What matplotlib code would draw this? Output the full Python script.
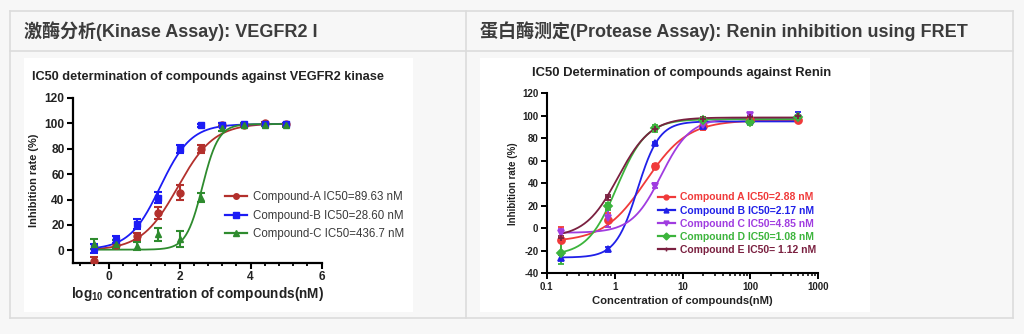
import numpy as np
import matplotlib
matplotlib.use("Agg")
import matplotlib.pyplot as plt
from matplotlib.patches import Rectangle
from matplotlib.lines import Line2D
from matplotlib.ticker import MultipleLocator, FixedLocator, LogLocator, NullFormatter, FuncFormatter

plt.rcParams['font.family'] = ['Liberation Sans', 'DejaVu Sans']
plt.rcParams['axes.unicode_minus'] = False
plt.rcParams['mathtext.fontset'] = 'custom'
plt.rcParams['mathtext.rm'] = 'Liberation Sans:bold'
plt.rcParams['mathtext.it'] = 'Liberation Sans:bold'
plt.rcParams['mathtext.bf'] = 'Liberation Sans:bold'

# ---------------- Kinase assay (VEGFR2) ----------------
kin_logc = [-0.4, 0.2, 0.8, 1.4, 2.0, 2.6, 3.2, 3.8, 4.4, 5.0]
kin_names = ["Compound-A IC50=89.63 nM", "Compound-B IC50=28.60 nM", "Compound-C IC50=436.7 nM"]
kin_ic50 = [89.63, 28.60, 436.7]
kin_hill = [0.85, 1.0, 1.9]
kin_bottom = [0.0, 0.5, 0.5]
kin_top = [100.0, 99.5, 99.5]
kin_a = [-8.5, 4, 11, 29.5, 45.5, 80, 99, 98.7, 100, 99.5]
kin_b = [1.5, 8.5, 20.5, 41.5, 80, 98.5, 99, 99.5, 99.5, 99.5]
kin_c = [5, 5, 3.5, 12.5, 9, 41.5, 96, 99, 99, 98.5]
kin_a_err = [3, 2, 3, 4.5, 6, 3, 1, 1, 1, 1]
kin_b_err = [3.5, 3, 4, 4.5, 3, 1, 1, 1, 1, 1]
kin_c_err = [4, 3, 3, 5, 6.5, 3.5, 2, 1, 1, 1]
kin_colors = ["#b3302c", "#1c1cf5", "#2e8b2e"]
kin_markers = ["o", "s", "^"]

# ---------------- Protease assay (Renin, FRET) ----------------
ren_conc = [0.16, 0.8, 4, 20, 100, 500]
ren_names = ["Compound A IC50=2.88 nM", "Compound B IC50=2.17 nM", "Compound C IC50=4.85 nM",
             "Compound D IC50=1.08 nM", "Compound E IC50= 1.12 nM"]
ren_ic50 = [2.88, 2.17, 4.85, 1.08, 1.12]
ren_hill = [1.4, 2.7, 2.0, 2.0, 1.8]
ren_bottom = [-12, -26, -4, -24, -8]
ren_top = [96, 95, 98, 97, 98.5]
ren_a = [-10.5, 7.5, 55, 90.5, 96, 96.5]
ren_b = [-26, -18.5, 75.5, 90.5, 95, 101]
ren_c = [-4.5, 9, 38, 92, 100.5, 98]
ren_d = [-22, 19.5, 89, 96, 94.5, 98.5]
ren_e = [-8.5, 27.5, 88.5, 97.5, 99, 99.5]
ren_a_err = [12, 6, 2, 3, 1, 1.5]
ren_b_err = [2, 2, 1, 2, 1.5, 2]
ren_c_err = [4, 8, 2, 2, 2, 1.5]
ren_d_err = [10, 3, 3, 1.5, 2.5, 1.5]
ren_e_err = [2, 2, 1.5, 1, 1, 1]
ren_colors = ["#f03a3a", "#2020e8", "#a03ce0", "#3cb43c", "#7a2040"]
ren_markers = ["o", "^", "v", "D", "+"]

header_left = "激酶分析(Kinase Assay): VEGFR2 I"
header_right = "蛋白酶测定(Protease Assay): Renin inhibition using FRET"

W, H = 1024, 334
fig = plt.figure(figsize=(W / 100, H / 100), dpi=100)
fig.patch.set_facecolor("#f7f7f7")


def fx(px):
    return px / W


def fy(py):
    return 1 - py / H


def rect(x0, y0, x1, y1, **kw):
    fig.patches.append(Rectangle((fx(x0), fy(y1)), fx(x1) - fx(x0), fy(y0) - fy(y1),
                                 transform=fig.transFigure, zorder=-5, **kw))


def hline(x0, x1, y, **kw):
    fig.add_artist(Line2D([fx(x0), fx(x1)], [fy(y), fy(y)], transform=fig.transFigure,
                          color="#dcdcdc", lw=1.2, zorder=-4, **kw))


def vline(x, y0, y1, **kw):
    fig.add_artist(Line2D([fx(x), fx(x)], [fy(y0), fy(y1)], transform=fig.transFigure,
                          color="#dcdcdc", lw=1.2, zorder=-4, **kw))


# table frame
hline(10, 1013, 10.5)
hline(10, 1013, 50.5)
hline(10, 1013, 318)
vline(10, 10.5, 318)
vline(1013, 10.5, 318)
vline(466, 10.5, 318)

hdr_font = ['Liberation Sans', 'Noto Sans CJK SC']
fig.text(fx(24), fy(31.5), header_left, family=hdr_font, fontsize=13, fontweight="bold",
         color="#3c3c3c", va="center", ha="left")
fig.text(fx(480), fy(31.5), header_right, family=hdr_font, fontsize=13, fontweight="bold",
         color="#3c3c3c", va="center", ha="left")

# white chart panels
rect(24, 58, 413, 312, facecolor="white", edgecolor="none")
rect(480, 58, 870, 312, facecolor="white", edgecolor="none")


def hill(x_log, ic50_log, h, bottom, top):
    return bottom + (top - bottom) / (1 + 10 ** ((ic50_log - x_log) * h))


# ---------- left chart ----------
ax1 = fig.add_axes([fx(73), fy(263), fx(321.7) - fx(73), fy(98) - fy(263)])
ax1.set_facecolor("none")
ax1.set_xlim(-1, 6)
ax1.set_ylim(-10, 120)
for s in ["top", "right"]:
    ax1.spines[s].set_visible(False)
for s in ["left", "bottom"]:
    ax1.spines[s].set_linewidth(1.6)
ax1.yaxis.set_major_locator(FixedLocator([0, 20, 40, 60, 80, 100, 120]))
ax1.xaxis.set_major_locator(FixedLocator([0, 2, 4, 6]))
ax1.xaxis.set_minor_locator(MultipleLocator(0.4))
ax1.tick_params(axis="both", which="major", length=4, width=1.5, labelsize=8.6, pad=2)
ax1.tick_params(axis="x", which="minor", length=2.5, width=1.3)
for lab in ax1.get_xticklabels() + ax1.get_yticklabels():
    lab.set_fontweight("bold")
    lab.set_color("#222222")

kin_vals = [kin_a, kin_b, kin_c]
kin_errs = [kin_a_err, kin_b_err, kin_c_err]
xs = np.linspace(min(kin_logc), max(kin_logc), 300)
handles = []
for i in range(3):
    col = kin_colors[i]
    ax1.plot(xs, hill(xs, np.log10(kin_ic50[i]), kin_hill[i], kin_bottom[i], kin_top[i]),
             color=col, lw=1.3, zorder=3)
    ax1.errorbar(kin_logc, kin_vals[i], yerr=kin_errs[i], fmt=kin_markers[i], color=col,
                 markersize=5, elinewidth=1.5, capsize=3, capthick=1.5, zorder=4)
    handles.append(Line2D([], [], color=col, lw=1.6, marker=kin_markers[i], markersize=4))

ax1.text(fx(32), fy(77), "IC50 determination of compounds against VEGFR2 kinase",
         transform=fig.transFigure, fontsize=9.2, fontweight="bold", color="#222222",
         va="center", ha="left")
ax1.set_ylabel("Inhibition rate (%)", fontsize=7.9, fontweight="bold", color="#222222", labelpad=4)
ax1.set_xlabel(r"log$_{10}$ concentration of compounds(nM)", fontsize=9.8, fontweight="bold",
               color="#222222", labelpad=1)
leg1 = ax1.legend(handles, kin_names, loc="upper left", bbox_to_anchor=(fx(225), fy(191)),
                  bbox_transform=fig.transFigure, frameon=False, fontsize=8.3, borderpad=0,
                  borderaxespad=0, handlelength=1.9, handletextpad=0.55, labelspacing=0.58)
for t in leg1.get_texts():
    t.set_color("#3a3a3a")

# ---------- right chart ----------
ax2 = fig.add_axes([fx(546.7), fy(273.3), fx(818.3) - fx(546.7), fy(93.3) - fy(273.3)])
ax2.set_facecolor("none")
ax2.set_xscale("log")
ax2.set_xlim(0.1, 1000)
ax2.set_ylim(-40, 120)
for s in ["top", "right"]:
    ax2.spines[s].set_visible(False)
for s in ["left", "bottom"]:
    ax2.spines[s].set_linewidth(1.5)
ax2.yaxis.set_major_locator(FixedLocator(list(range(-40, 121, 20))))
ax2.xaxis.set_major_locator(LogLocator(base=10, numticks=10))
ax2.xaxis.set_minor_locator(LogLocator(base=10, subs=np.arange(2, 10), numticks=20))
ax2.xaxis.set_minor_formatter(NullFormatter())
ax2.xaxis.set_major_formatter(FuncFormatter(lambda v, p: f"{v:g}"))
ax2.tick_params(axis="both", which="major", length=4, width=1.4, labelsize=7, pad=2)
ax2.tick_params(axis="x", which="minor", length=2.2, width=1.1)
for lab in ax2.get_xticklabels() + ax2.get_yticklabels():
    lab.set_fontweight("bold")
    lab.set_color("#222222")

ren_vals = [ren_a, ren_b, ren_c, ren_d, ren_e]
ren_errs = [ren_a_err, ren_b_err, ren_c_err, ren_d_err, ren_e_err]
xc = np.logspace(np.log10(min(ren_conc)), np.log10(max(ren_conc)), 300)
handles2 = []
for i in range(5):
    col = ren_colors[i]
    ax2.plot(xc, hill(np.log10(xc), np.log10(ren_ic50[i]), ren_hill[i], ren_bottom[i], ren_top[i]),
             color=col, lw=1.3, zorder=3)
    ms = 5 if ren_markers[i] != "D" else 4
    ax2.errorbar(ren_conc, ren_vals[i], yerr=ren_errs[i], fmt=ren_markers[i], color=col,
                 markersize=ms, markeredgewidth=1.3, elinewidth=1.4, capsize=2.5, capthick=1.4,
                 zorder=4)
    handles2.append(Line2D([], [], color=col, lw=1.6, marker=ren_markers[i], markersize=3.5))

ax2.text(fx(682), fy(73), "IC50 Determination of compounds against Renin",
         transform=fig.transFigure, fontsize=9.4, fontweight="bold", color="#222222",
         va="center", ha="center")
ax2.set_ylabel("Inhibition rate (%)", fontsize=7.0, fontweight="bold", color="#222222", labelpad=3)
ax2.set_xlabel("Concentration of compounds(nM)", fontsize=8.1, fontweight="bold",
               color="#222222", labelpad=3)
leg2 = ax2.legend(handles2, ren_names, loc="upper left", bbox_to_anchor=(fx(658), fy(192.5)),
                  bbox_transform=fig.transFigure, frameon=False, fontsize=7.5, borderpad=0,
                  borderaxespad=0, handlelength=1.6, handletextpad=0.5, labelspacing=0.3)
for t, col in zip(leg2.get_texts(), ren_colors):
    t.set_color(col)
    t.set_fontweight("bold")

fig.savefig("out.png", dpi=100, facecolor=fig.get_facecolor())
